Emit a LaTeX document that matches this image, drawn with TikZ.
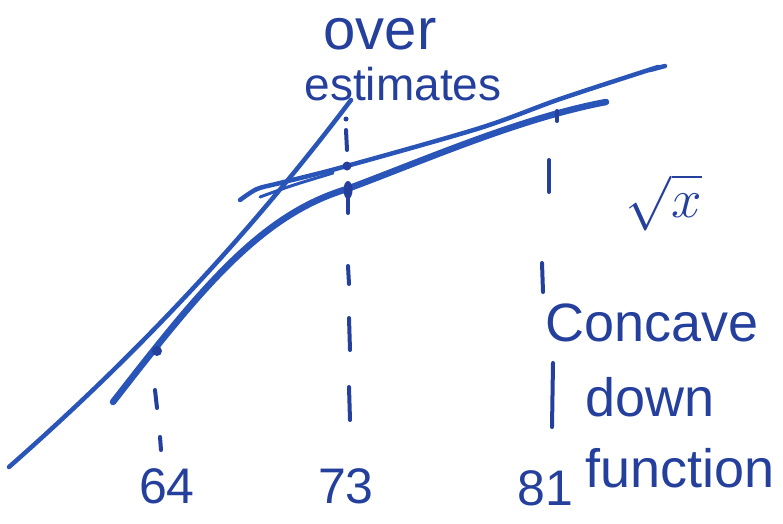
\documentclass[tikz,border=0pt]{standalone}
\usepackage{fontspec}
\setmainfont{Liberation Sans}
\usetikzlibrary{positioning}
\definecolor{ink}{HTML}{2A55B8}
\definecolor{inkd}{HTML}{243F9C}
\begin{document}
\begin{tikzpicture}[x=1pt, y=-1pt,
  curve/.style={ink, line width=6.5pt, line cap=round, line join=round},
  tan/.style={ink, line width=4.5pt, line cap=round, line join=round},
  tick/.style={inkd, line width=4pt, line cap=round},
  lbl/.style={inkd, font=\fontsize{#1}{#1}\selectfont, inner sep=0pt, anchor=base}, lbl/.default=50,
  dotm/.style={fill=inkd, draw=none}]
\useasboundingbox (0,0) rectangle (783,523);
\coordinate (p64) at (157,351); \coordinate (p73) at (348,190); \coordinate (t73) at (347,166);
\draw[tan] (9,467) .. controls (110,378) and (230,260) .. (351,100);
\draw[curve] (113,402) .. controls (200,290) and (260,215) .. (347,189) .. controls (420,162) and (520,118) .. (606,102);
\draw[tan] plot[smooth, tension=0.5] coordinates {(240,200) (257,189) (280,183) (343,167) (480,128) (560,99) (658,67)};
\draw[tan] (650,70) -- (665,66); \draw[tan, line width=3pt] (260,197) .. controls (290,186) .. (333,173);
\fill[dotm] (p64) circle (5); \fill[dotm] (t73) circle (4.5); \fill[dotm] (p73) ellipse (4.5 and 9);
\draw[tick] (155,390) -- (157,408); \draw[tick] (160,437) -- (161,450);
\draw[tick] (346,130) -- (347,150); \fill[dotm] (346,119) circle (2.5); \draw[tick] (348,195) -- (348,213);
\draw[tick] (348,266) -- (349,284); \draw[tick] (349,318) -- (350,350); \draw[tick] (349,387) -- (350,420);
\draw[tick] (557,111) -- (557,121); \draw[tick] (549,160) -- (549,192); \draw[tick] (542,263) -- (543,292); \draw[tick] (553,363) -- (552,427);
\node[lbl=46] (est) at (403,100) {estimates};
\node[lbl=58] (over) at (380,49) {over};
\node[lbl] (root) at (664,217) {\scalebox{2.2}{$\sqrt{x}$}};
\node[lbl=54, anchor=base west] (conc) at (545,341) {Concave};
\node[lbl=54, anchor=base west] (down) at (585,416) {down};
\node[lbl=54, anchor=base west] (func) at (585,487) {function};
\node[lbl] (n64) at (167,503) {64}; \node[lbl] (n73) at (346,503) {73}; \node[lbl] (n81) at (545,505) {81};
\end{tikzpicture}
\end{document}
